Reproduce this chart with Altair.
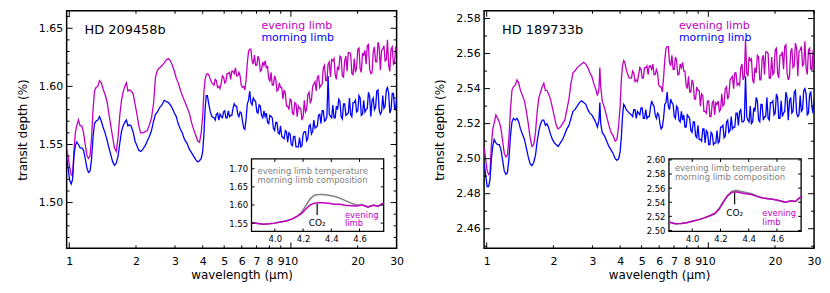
import altair as alt
import pandas as pd

# ---------------- data ----------------
WL_SMOOTH = [0.975, 0.99, 1.005, 1.02, 1.035, 1.05, 1.065, 1.08, 1.10, 1.12,
             1.14, 1.16, 1.18, 1.20, 1.22, 1.24, 1.26, 1.28, 1.30, 1.32,
             1.345, 1.37, 1.395, 1.42, 1.45, 1.48, 1.51, 1.54, 1.57, 1.60,
             1.63, 1.66, 1.69, 1.72, 1.75, 1.78, 1.81, 1.84, 1.87, 1.90,
             1.94, 1.98, 2.02, 2.06, 2.10, 2.15, 2.20, 2.25, 2.30, 2.35,
             2.40, 2.45, 2.50, 2.56, 2.62, 2.68, 2.74, 2.80, 2.86, 2.92,
             2.98, 3.04, 3.10, 3.16, 3.21, 3.24, 3.27, 3.32, 3.40, 3.48,
             3.56, 3.64, 3.72, 3.80, 3.87, 3.94, 4.00, 4.05, 4.10, 4.15,
             4.20, 4.26, 4.33, 4.40]
WL_NOISY = [4.5, 4.61, 4.73, 4.85, 4.97, 5.09, 5.22, 5.35, 5.48, 5.62,
            5.76, 5.90, 6.05, 6.20, 6.36, 6.52, 6.68, 6.85, 7.02, 7.19,
            7.37, 7.56, 7.75, 7.94, 8.14, 8.34, 8.55, 8.76, 8.98, 9.21,
            9.44, 9.67, 9.92, 10.16, 10.42, 10.68, 10.94, 11.22, 11.50, 11.78,
            12.08, 12.38, 12.69, 13.01, 13.33, 13.67, 14.01, 14.36, 14.72, 15.09,
            15.46, 15.85, 16.24, 16.65, 17.07, 17.49, 17.93, 18.38, 18.84, 19.31,
            19.79, 20.29, 20.79, 21.31, 21.85, 22.39, 22.95, 23.53, 24.11, 24.72,
            25.34, 25.97, 26.62, 27.28, 27.96, 28.66, 29.38, 30.0]
WL_NOISY_MID = [4.555, 4.67, 4.79, 4.91, 5.03, 5.155, 5.285, 5.415, 5.55, 5.69,
                5.83, 5.975, 6.125, 6.28, 6.44, 6.60, 6.765, 6.935, 7.105, 7.28,
                7.465, 7.655, 7.845, 8.04, 8.24, 8.445, 8.655, 8.87, 9.095, 9.325,
                9.555, 9.795, 10.04, 10.29, 10.55, 10.81, 11.08, 11.36, 11.64, 11.93,
                12.23, 12.535, 12.85, 13.17, 13.50, 13.84, 14.185, 14.54, 14.905, 15.275,
                15.655, 16.045, 16.445, 16.86, 17.28, 17.71, 18.155, 18.61, 19.075, 19.55,
                20.04, 20.54, 21.05, 21.58, 22.12, 22.67, 23.24, 23.82, 24.415, 25.03,
                25.655, 26.295, 26.95, 27.62, 28.31, 29.02, 29.69]
WAVELENGTH = WL_SMOOTH + WL_NOISY + WL_NOISY_MID

HD209_EVENING = [
    1.546, 1.538, 1.530, 1.524, 1.523, 1.545, 1.560, 1.566, 1.571, 1.566,
    1.566, 1.560, 1.550, 1.541, 1.538, 1.540, 1.555, 1.580, 1.596, 1.599,
    1.600, 1.605, 1.603, 1.598, 1.593, 1.587, 1.576, 1.566, 1.556, 1.547,
    1.544, 1.556, 1.575, 1.588, 1.595, 1.600, 1.603, 1.596, 1.597, 1.596,
    1.594, 1.585, 1.576, 1.566, 1.560, 1.560, 1.561, 1.562, 1.567, 1.573,
    1.585, 1.608, 1.614, 1.616, 1.618, 1.620, 1.623, 1.624, 1.622, 1.618,
    1.613, 1.607, 1.603, 1.598, 1.594, 1.592, 1.590, 1.587, 1.582, 1.577,
    1.569, 1.563, 1.558, 1.553, 1.552, 1.560, 1.575, 1.595, 1.606, 1.610,
    1.611, 1.610, 1.606, 1.603,
    1.601, 1.605, 1.600, 1.603, 1.608, 1.604, 1.611, 1.606, 1.613, 1.616,
    1.609, 1.609, 1.599, 1.597, 1.620, 1.632, 1.622, 1.627, 1.618, 1.623,
    1.614, 1.618, 1.616, 1.607, 1.612, 1.601, 1.606, 1.597, 1.599, 1.589,
    1.594, 1.583, 1.589, 1.577, 1.586, 1.574, 1.581, 1.571, 1.588, 1.580,
    1.595, 1.588, 1.602, 1.596, 1.609, 1.601, 1.616, 1.605, 1.619, 1.608,
    1.622, 1.610, 1.617, 1.626, 1.609, 1.622, 1.613, 1.629, 1.611, 1.624,
    1.616, 1.633, 1.612, 1.627, 1.619, 1.636, 1.611, 1.630, 1.621, 1.638,
    1.614, 1.632, 1.622, 1.640, 1.613, 1.634, 1.620, 1.631,
    1.606, 1.599, 1.598, 1.609, 1.603, 1.611, 1.612, 1.613, 1.611, 1.609,
    1.612, 1.601, 1.600, 1.606, 1.630, 1.632, 1.619, 1.618, 1.626, 1.613,
    1.621, 1.622, 1.617, 1.604, 1.601, 1.609, 1.596, 1.603, 1.599, 1.597,
    1.583, 1.580, 1.588, 1.576, 1.585, 1.583, 1.581, 1.574, 1.578, 1.593,
    1.586, 1.600, 1.604, 1.608, 1.599, 1.602, 1.618, 1.605, 1.621, 1.623,
    1.624, 1.606, 1.614, 1.625, 1.608, 1.626, 1.629, 1.628, 1.610, 1.612,
    1.632, 1.615, 1.628, 1.631, 1.635, 1.615, 1.612, 1.634, 1.621, 1.634,
    1.631, 1.635, 1.623, 1.618, 1.632, 1.619, 1.634]
HD209_MORNING = [
    1.538, 1.528, 1.519, 1.516, 1.520, 1.540, 1.549, 1.552, 1.550, 1.547,
    1.547, 1.545, 1.538, 1.530, 1.526, 1.527, 1.537, 1.556, 1.568, 1.570,
    1.571, 1.574, 1.570, 1.565, 1.560, 1.554, 1.547, 1.541, 1.535, 1.532,
    1.534, 1.540, 1.551, 1.561, 1.566, 1.569, 1.571, 1.566, 1.567, 1.566,
    1.561, 1.553, 1.549, 1.545, 1.544, 1.546, 1.549, 1.553, 1.557, 1.562,
    1.570, 1.576, 1.578, 1.582, 1.584, 1.588, 1.587, 1.586, 1.584, 1.581,
    1.577, 1.574, 1.568, 1.564, 1.561, 1.560, 1.557, 1.554, 1.551, 1.546,
    1.543, 1.540, 1.537, 1.535, 1.536, 1.538, 1.544, 1.558, 1.580, 1.592,
    1.592, 1.585, 1.578, 1.574,
    1.573, 1.576, 1.571, 1.574, 1.578, 1.573, 1.579, 1.575, 1.581, 1.583,
    1.576, 1.578, 1.570, 1.563, 1.585, 1.596, 1.584, 1.588, 1.578, 1.584,
    1.575, 1.579, 1.577, 1.568, 1.574, 1.564, 1.569, 1.560, 1.566, 1.556,
    1.562, 1.552, 1.559, 1.549, 1.557, 1.548, 1.556, 1.549, 1.561, 1.553,
    1.566, 1.559, 1.571, 1.565, 1.575, 1.568, 1.579, 1.571, 1.609, 1.574,
    1.584, 1.573, 1.580, 1.587, 1.572, 1.585, 1.576, 1.590, 1.574, 1.586,
    1.578, 1.592, 1.575, 1.588, 1.580, 1.595, 1.574, 1.590, 1.582, 1.597,
    1.576, 1.592, 1.583, 1.599, 1.577, 1.594, 1.581, 1.590,
    1.571, 1.577, 1.576, 1.573, 1.579, 1.573, 1.574, 1.575, 1.585, 1.583,
    1.574, 1.577, 1.564, 1.572, 1.588, 1.586, 1.590, 1.587, 1.577, 1.583,
    1.573, 1.574, 1.569, 1.575, 1.573, 1.562, 1.569, 1.559, 1.557, 1.555,
    1.561, 1.560, 1.550, 1.557, 1.548, 1.548, 1.548, 1.559, 1.561, 1.555,
    1.567, 1.561, 1.564, 1.566, 1.576, 1.579, 1.570, 1.574, 1.576, 1.573,
    1.573, 1.583, 1.589, 1.574, 1.585, 1.575, 1.577, 1.576, 1.586, 1.588,
    1.579, 1.590, 1.576, 1.578, 1.581, 1.591, 1.588, 1.580, 1.596, 1.580,
    1.578, 1.581, 1.597, 1.594, 1.580, 1.594, 1.580]
HD189_EVENING = [
    2.506, 2.499, 2.493, 2.491, 2.492, 2.508, 2.517, 2.520, 2.525, 2.523,
    2.521, 2.517, 2.510, 2.503, 2.501, 2.502, 2.512, 2.528, 2.539, 2.541,
    2.542, 2.545, 2.543, 2.539, 2.536, 2.533, 2.527, 2.520, 2.512, 2.507,
    2.508, 2.515, 2.527, 2.535, 2.538, 2.541, 2.543, 2.539, 2.539, 2.537,
    2.534, 2.529, 2.524, 2.519, 2.517, 2.518, 2.520, 2.522, 2.528, 2.534,
    2.543, 2.549, 2.550, 2.552, 2.553, 2.554, 2.555, 2.554, 2.552, 2.549,
    2.547, 2.543, 2.540, 2.536, 2.540, 2.552, 2.541, 2.533, 2.529, 2.524,
    2.519, 2.515, 2.513, 2.510, 2.511, 2.519, 2.530, 2.545, 2.553, 2.556,
    2.555, 2.551, 2.548, 2.546,
    2.546, 2.549, 2.545, 2.548, 2.551, 2.546, 2.552, 2.548, 2.553, 2.554,
    2.548, 2.549, 2.541, 2.538, 2.556, 2.564, 2.555, 2.559, 2.551, 2.556,
    2.548, 2.552, 2.550, 2.542, 2.547, 2.538, 2.543, 2.534, 2.539, 2.530,
    2.536, 2.527, 2.533, 2.524, 2.532, 2.525, 2.531, 2.527, 2.537, 2.531,
    2.541, 2.536, 2.546, 2.540, 2.549, 2.543, 2.552, 2.545, 2.568, 2.547,
    2.556, 2.545, 2.552, 2.559, 2.545, 2.557, 2.548, 2.561, 2.546, 2.558,
    2.549, 2.563, 2.546, 2.559, 2.551, 2.565, 2.545, 2.561, 2.552, 2.566,
    2.547, 2.562, 2.553, 2.567, 2.548, 2.563, 2.551, 2.560,
    2.550, 2.544, 2.544, 2.552, 2.546, 2.552, 2.553, 2.553, 2.551, 2.548,
    2.551, 2.542, 2.541, 2.546, 2.563, 2.564, 2.553, 2.551, 2.558, 2.548,
    2.554, 2.555, 2.550, 2.540, 2.538, 2.545, 2.534, 2.541, 2.539, 2.537,
    2.527, 2.526, 2.533, 2.524, 2.533, 2.532, 2.533, 2.528, 2.530, 2.540,
    2.534, 2.545, 2.547, 2.549, 2.542, 2.542, 2.554, 2.547, 2.549, 2.558,
    2.557, 2.543, 2.549, 2.558, 2.545, 2.559, 2.561, 2.560, 2.546, 2.548,
    2.562, 2.549, 2.559, 2.561, 2.564, 2.549, 2.547, 2.563, 2.553, 2.563,
    2.561, 2.564, 2.554, 2.552, 2.562, 2.551, 2.562]
HD189_MORNING = [
    2.497, 2.490, 2.484, 2.484, 2.488, 2.500, 2.507, 2.511, 2.509, 2.508,
    2.508, 2.505, 2.499, 2.493, 2.491, 2.492, 2.500, 2.513, 2.521, 2.523,
    2.522, 2.523, 2.521, 2.517, 2.514, 2.511, 2.506, 2.501, 2.497, 2.496,
    2.498, 2.502, 2.510, 2.516, 2.520, 2.522, 2.522, 2.519, 2.520, 2.518,
    2.514, 2.511, 2.509, 2.508, 2.507, 2.509, 2.511, 2.514, 2.517, 2.519,
    2.523, 2.527, 2.528, 2.530, 2.532, 2.533, 2.532, 2.531, 2.528, 2.526,
    2.525, 2.523, 2.521, 2.518, 2.522, 2.532, 2.520, 2.515, 2.513, 2.510,
    2.507, 2.505, 2.503, 2.500, 2.499, 2.500, 2.504, 2.512, 2.524, 2.531,
    2.530, 2.528, 2.527, 2.526,
    2.525, 2.528, 2.523, 2.526, 2.529, 2.523, 2.528, 2.524, 2.529, 2.531,
    2.525, 2.526, 2.520, 2.518, 2.531, 2.538, 2.528, 2.532, 2.524, 2.530,
    2.522, 2.527, 2.525, 2.518, 2.524, 2.516, 2.521, 2.513, 2.519, 2.511,
    2.517, 2.509, 2.515, 2.508, 2.514, 2.509, 2.516, 2.510, 2.518, 2.512,
    2.521, 2.515, 2.524, 2.518, 2.526, 2.519, 2.528, 2.521, 2.547, 2.522,
    2.530, 2.521, 2.527, 2.533, 2.521, 2.531, 2.524, 2.535, 2.522, 2.532,
    2.525, 2.537, 2.523, 2.533, 2.526, 2.538, 2.522, 2.535, 2.527, 2.539,
    2.524, 2.536, 2.528, 2.540, 2.525, 2.537, 2.529, 2.534,
    2.524, 2.528, 2.527, 2.525, 2.529, 2.523, 2.523, 2.524, 2.533, 2.530,
    2.523, 2.525, 2.517, 2.523, 2.532, 2.530, 2.534, 2.531, 2.523, 2.529,
    2.521, 2.522, 2.518, 2.525, 2.523, 2.515, 2.521, 2.512, 2.511, 2.510,
    2.517, 2.516, 2.508, 2.515, 2.508, 2.509, 2.509, 2.518, 2.519, 2.513,
    2.522, 2.516, 2.517, 2.518, 2.526, 2.527, 2.521, 2.522, 2.524, 2.521,
    2.520, 2.529, 2.535, 2.522, 2.531, 2.522, 2.524, 2.523, 2.532, 2.533,
    2.526, 2.535, 2.523, 2.524, 2.527, 2.535, 2.533, 2.526, 2.538, 2.526,
    2.525, 2.527, 2.539, 2.537, 2.526, 2.538, 2.526]

INSET_WL = [3.84, 3.88, 3.92, 3.96, 4.00, 4.04, 4.08, 4.12, 4.16, 4.19,
            4.22, 4.25, 4.28, 4.31, 4.34, 4.38, 4.42, 4.46, 4.50, 4.54,
            4.58, 4.62, 4.66, 4.70, 4.73, 4.77]
HD209_INSET_EVENING = [1.551, 1.549, 1.547, 1.548, 1.550, 1.553, 1.556, 1.561, 1.569, 1.577,
                       1.589, 1.600, 1.605, 1.606, 1.606, 1.605, 1.602, 1.602, 1.599, 1.598,
                       1.597, 1.600, 1.594, 1.600, 1.596, 1.606]
HD209_INSET_MIXED = [1.551, 1.549, 1.547, 1.548, 1.550, 1.553, 1.556, 1.561, 1.569, 1.580,
                     1.598, 1.617, 1.627, 1.629, 1.629, 1.627, 1.624, 1.619, 1.612, 1.605,
                     1.600, 1.600, 1.595, 1.599, 1.597, 1.604]
HD189_INSET_EVENING = [2.5116, 2.5095, 2.5098, 2.511, 2.513, 2.515, 2.5175, 2.5205, 2.524, 2.530,
                       2.540, 2.549, 2.554, 2.555, 2.5535, 2.552, 2.551, 2.548, 2.546, 2.545,
                       2.544, 2.542, 2.540, 2.542, 2.541, 2.548]
HD189_INSET_MIXED = [2.5116, 2.5095, 2.5098, 2.511, 2.513, 2.515, 2.5175, 2.5205, 2.524, 2.531,
                     2.541, 2.550, 2.5555, 2.557, 2.5555, 2.554, 2.552, 2.549, 2.546, 2.545,
                     2.544, 2.542, 2.540, 2.542, 2.541, 2.548]

X_LABELS = [1, 2, 3, 4, 5, 6, 7, 8, 9, 10, 20, 30]
X_MAJOR = [1, 10]
X_MINOR = [2, 3, 4, 5, 6, 7, 8, 9, 20, 30]
HD209_YMAJOR = [1.50, 1.55, 1.60, 1.65]
HD209_YMINOR = [1.47, 1.48, 1.49, 1.51, 1.52, 1.53, 1.54, 1.56, 1.57, 1.58, 1.59,
                1.61, 1.62, 1.63, 1.64, 1.66]
HD189_YMAJOR = [2.46, 2.48, 2.50, 2.52, 2.54, 2.56, 2.58]
HD189_YMINOR = [2.45, 2.47, 2.49, 2.51, 2.53, 2.55, 2.57]
INSET_XTICKS = [4.0, 4.2, 4.4, 4.6]
HD209_INSET_YTICKS = [1.55, 1.60, 1.65, 1.70]
HD189_INSET_YTICKS = [2.50, 2.52, 2.54, 2.56, 2.58, 2.60]

# ---------------- layout / style ----------------
X_DOMAIN = [0.973, 30]
HD209_YDOM = [1.4606, 1.665]
HD189_YDOM = [2.4488, 2.5844]
INSET_XDOM = [3.835, 4.771]
HD209_INSET_YDOM = [1.527, 1.727]
HD189_INSET_YDOM = [2.4986, 2.6014]
W, H = 332, 239
IX0, IX1, IY0, IY1 = 186, 319, 149, 222
MAGENTA, BLUE, GRAY = "#BF00BF", "#0000FF", "#808080"
FONT = "DejaVu Sans"


def rules_x(vals, scale, y_from, y_to):
    return alt.Chart(pd.DataFrame({"v": vals})).mark_rule(color="black", strokeWidth=1).encode(
        x=alt.X("v:Q", scale=scale, axis=None), y=alt.value(y_from), y2=alt.value(y_to))


def rules_y(vals, scale, x_from, x_to):
    return alt.Chart(pd.DataFrame({"v": vals})).mark_rule(color="black", strokeWidth=1).encode(
        y=alt.Y("v:Q", scale=scale, axis=None), x=alt.value(x_from), x2=alt.value(x_to))


def label(text, x, y, size, color, align="left"):
    return alt.Chart(pd.DataFrame({"t": [text]})).mark_text(
        align=align, baseline="middle", fontSize=size, color=color, font=FONT).encode(
        text="t:N", x=alt.value(x), y=alt.value(y))


def panel(name, eve, morn, ydom, ymajor, yminor, iydom, iyticks, in_eve, in_mix,
          co2, txt_top, limb_txt):
    xs = alt.Scale(type="log", domain=X_DOMAIN, nice=False)
    ys = alt.Scale(domain=ydom, nice=False, zero=False)
    df = pd.DataFrame({
        "wl": WAVELENGTH + WAVELENGTH,
        "depth": eve + morn,
        "limb": ["evening limb"] * len(eve) + ["morning limb"] * len(morn),
    }).sort_values(["limb", "wl"]).reset_index(drop=True)
    lines = alt.Chart(df).mark_line(strokeWidth=1.3, clip=True).encode(
        x=alt.X("wl:Q", scale=xs, axis=alt.Axis(
            orient="bottom", values=X_LABELS, format="~g", title="wavelength (μm)",
            labelPadding=7, titlePadding=3, titleX=176, labelFlush=False, labelOverlap=False)),
        y=alt.Y("depth:Q", scale=ys, axis=alt.Axis(
            orient="left", values=ymajor, format=".2f", title="transit depth (%)",
            labelPadding=4, titlePadding=9, labelFlush=False, labelOverlap=False)),
        color=alt.Color("limb:N", scale=alt.Scale(
            domain=["evening limb", "morning limb"], range=[MAGENTA, BLUE]), legend=None),
        detail="limb:N",
    )

    ixs = alt.Scale(domain=INSET_XDOM, range=[IX0, IX1], nice=False, zero=False)
    iys = alt.Scale(domain=iydom, range=[IY1, IY0], nice=False, zero=False)
    frame = alt.Chart(pd.DataFrame({
        "x0": [INSET_XDOM[0]], "x1": [INSET_XDOM[1]], "y0": [iydom[0]], "y1": [iydom[1]]
    })).mark_rect(fill="white", stroke="black", strokeWidth=1.3).encode(
        x=alt.X("x0:Q", scale=ixs, axis=None), x2="x1:Q",
        y=alt.Y("y0:Q", scale=iys, axis=None), y2="y1:Q")
    idf = pd.DataFrame({"wl": INSET_WL, "eve": in_eve, "mix": in_mix})
    mixed = alt.Chart(idf).mark_line(color=GRAY, strokeWidth=1.5).encode(
        x=alt.X("wl:Q", scale=ixs, axis=alt.Axis(
            orient="bottom", offset=-(H - IY1), values=INSET_XTICKS, format=".1f",
            labelFontSize=8.5, labelPadding=3, title=None, labelFlush=False,
            labelOverlap=False)),
        y=alt.Y("mix:Q", scale=iys, axis=alt.Axis(
            orient="left", offset=-IX0, values=iyticks, format=".2f",
            labelFontSize=8.5, labelPadding=4, title=None, labelFlush=False,
            labelOverlap=False)),
    )
    evening = alt.Chart(idf).mark_line(color=MAGENTA, strokeWidth=1.5).encode(
        x=alt.X("wl:Q", scale=ixs, axis=None), y=alt.Y("eve:Q", scale=iys, axis=None))
    co2_df = pd.DataFrame({"x": [co2[0]], "y0": [co2[1]], "y1": [co2[2]], "ty": [co2[3]],
                           "t": ["CO₂"]})
    co2_rule = alt.Chart(co2_df).mark_rule(color="black", strokeWidth=1.2).encode(
        x=alt.X("x:Q", scale=ixs, axis=None), y=alt.Y("y0:Q", scale=iys, axis=None), y2="y1:Q")
    co2_text = alt.Chart(co2_df).mark_text(fontSize=9, font=FONT, color="black",
                                           baseline="middle").encode(
        x=alt.X("x:Q", scale=ixs, axis=None), y=alt.Y("ty:Q", scale=iys, axis=None), text="t:N")

    layers = [
        lines,
        rules_x(X_MAJOR, xs, H, H - 6), rules_x(X_MAJOR, xs, 0, 6),
        rules_x(X_MINOR, xs, H, H - 3), rules_x(X_MINOR, xs, 0, 3),
        rules_y(ymajor, ys, 0, 6), rules_y(ymajor, ys, W, W - 6),
        rules_y(yminor, ys, 0, 3), rules_y(yminor, ys, W, W - 3),
        label(name, 18, 19, 13, "black"),
        label("evening limb", 196, 15, 11, MAGENTA),
        label("morning limb", 196, 27, 11, BLUE),
        frame, mixed, evening, co2_rule, co2_text,
        label("evening limb temperature", 192, txt_top, 8.5, GRAY),
        label("morning limb composition", 192, txt_top + 9.3, 8.5, GRAY),
        label("evening", 280, limb_txt, 8.5, MAGENTA),
        label("limb", 280, limb_txt + 8.8, 8.5, MAGENTA),
        rules_x(INSET_XTICKS, ixs, IY1, IY1 - 3), rules_x(INSET_XTICKS, ixs, IY0, IY0 + 3),
        rules_y(iyticks, iys, IX0, IX0 + 3), rules_y(iyticks, iys, IX1, IX1 - 3),
    ]
    return alt.layer(*layers).resolve_scale(
        x="independent", y="independent").properties(width=W, height=H)


p1 = panel("HD 209458b", HD209_EVENING, HD209_MORNING, HD209_YDOM, HD209_YMAJOR, HD209_YMINOR,
           HD209_INSET_YDOM, HD209_INSET_YTICKS, HD209_INSET_EVENING, HD209_INSET_MIXED,
           (4.30, 1.5726, 1.6034, 1.5516), 161, 205)
p2 = panel("HD 189733b", HD189_EVENING, HD189_MORNING, HD189_YDOM, HD189_YMAJOR, HD189_YMINOR,
           HD189_INSET_YDOM, HD189_INSET_YTICKS, HD189_INSET_EVENING, HD189_INSET_MIXED,
           (4.30, 2.5372, 2.5534, 2.5241), 158, 203.5)

chart = alt.hconcat(p1, p2, spacing=28).properties(
    padding={"left": 7, "top": 0, "right": 0, "bottom": 0}
).configure(font=FONT).configure_view(
    stroke="black", strokeWidth=1.5
).configure_axis(
    grid=False, domain=False, ticks=False, labelColor="black", titleColor="black",
    labelFontSize=11, titleFontSize=12, titleFontWeight="normal", labelFont=FONT, titleFont=FONT
)

chart.save("out.html", embed_options={"renderer": "svg", "actions": False})
